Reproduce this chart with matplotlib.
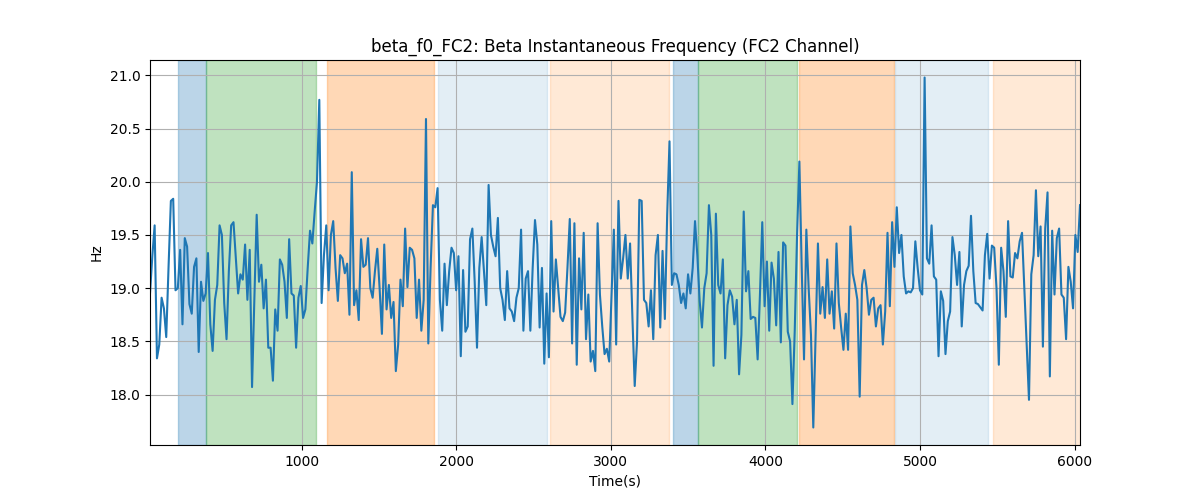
import numpy as np
import matplotlib
matplotlib.use('Agg')
import matplotlib.pyplot as plt

#Beta instantaneous frequency values (Hz), one every 15 s
freq = [
  18.95, 19.3, 19.59, 18.34, 18.47, 18.91, 18.81, 18.54, 19.2, 19.82,
  19.84, 18.98, 19.0, 19.36, 18.66, 19.47, 19.39, 18.85, 18.76, 19.2,
  19.28, 18.4, 19.06, 18.88, 18.95, 19.33, 18.66, 18.41, 18.89, 19.03,
  19.59, 19.5, 18.86, 18.52, 19.16, 19.59, 19.62, 19.28, 18.95, 19.13,
  19.08, 19.41, 18.89, 19.36, 18.07, 18.9, 19.69, 19.06, 19.22, 18.81,
  19.08, 18.44,
  18.44, 18.13, 18.8, 18.6, 19.27, 19.22, 19.06, 18.72, 19.46, 18.95,
  18.93, 18.44, 18.91, 19.02, 18.72, 18.8, 19.19, 19.54, 19.42, 19.72,
  20.0, 20.77, 18.86, 19.31, 19.59, 18.98, 19.5, 19.63, 19.19, 18.88,
  19.31, 19.28, 19.14, 19.23, 18.75, 20.09, 18.84, 18.98, 18.7, 19.46,
  19.2, 19.22, 19.47, 19.0, 18.91, 19.16, 19.37, 19.0, 18.57, 19.41,
  18.8, 19.03,
  18.72, 18.87, 18.22, 18.47, 19.08, 18.83, 19.56, 19.01, 19.38, 19.36,
  19.28, 18.72, 19.08, 18.6, 18.89, 20.59, 18.48, 19.2, 19.78, 19.76,
  19.94, 18.89, 18.6, 19.23, 18.84, 19.16, 19.38, 19.33, 18.98, 19.3,
  18.36, 19.17, 18.59, 18.64, 19.46, 19.56, 19.06, 18.44, 19.19, 19.48,
  19.16, 18.84, 19.97, 19.5, 19.39, 19.3, 19.66, 19.0, 18.89, 18.7,
  19.16, 18.81,
  18.78, 18.69, 18.91, 19.0, 19.55, 18.6, 19.09, 19.16, 18.6, 19.19,
  19.64, 19.41, 18.63, 19.19, 18.29, 18.95, 18.35, 19.63, 18.78, 19.27,
  19.0, 18.73, 18.69, 18.77, 19.19, 19.65, 18.48, 19.61, 18.28, 19.28,
  18.8, 19.52, 18.52, 18.94, 18.31, 18.41, 18.22, 19.61, 18.94, 18.64,
  18.38, 18.43, 18.31, 18.94, 19.55, 18.47, 19.82, 19.09, 19.28, 19.5,
  19.09, 19.42,
  18.73, 18.08, 18.5, 19.83, 19.82, 18.89, 18.86, 18.64, 18.98, 18.52,
  19.31, 19.5, 18.63, 19.35, 18.71, 19.69, 20.38, 19.03, 19.14, 19.13,
  19.03, 18.86, 18.95, 18.81, 19.13, 18.95, 19.19, 19.63, 19.31, 18.88,
  18.63, 19.0, 19.14, 19.78, 19.5, 18.27, 19.7, 19.03, 18.95, 19.27,
  18.34, 18.84, 18.98, 18.92, 18.66, 18.89, 18.19, 18.56, 19.72, 18.97,
  19.16,
  18.71, 18.73, 18.72, 18.33, 18.94, 19.62, 18.83, 19.25, 18.6, 19.24,
  19.09, 18.65, 19.34, 18.49, 19.43, 19.4, 18.59, 18.5, 17.91, 18.6,
  19.5, 20.19, 19.2, 18.33, 19.55, 19.0, 18.56, 17.69, 18.56, 19.42,
  18.76, 19.01, 18.72, 19.27, 18.76, 18.97, 18.62, 19.42, 18.86, 18.63,
  18.42, 18.76, 18.42, 19.58, 19.14, 19.03, 18.89, 17.98, 19.03, 19.17,
  19.0, 18.75,
  18.89, 18.91, 18.64, 18.81, 18.84, 18.47, 18.78, 19.52, 18.83, 19.62,
  19.2, 19.76, 19.33, 19.5, 19.11, 18.95, 18.97, 18.96, 19.0, 19.44,
  19.19, 18.98, 18.94, 20.98, 19.28, 19.23, 19.59, 19.11, 19.08, 18.36,
  18.97, 18.88, 18.38, 18.69, 18.78, 19.48, 19.31, 19.03, 19.34, 18.64,
  19.03, 19.16, 19.21, 19.68, 19.16, 18.86, 18.85, 18.82, 18.79, 19.31,
  19.51, 19.09,
  19.4, 19.38, 19.0, 18.28, 19.38, 19.16, 18.73, 19.63, 19.11, 19.1,
  19.33, 19.28, 19.44, 19.52, 19.0, 18.47, 17.95, 19.13, 19.31, 19.92,
  19.3, 19.58, 18.45, 19.56, 19.9, 18.17, 19.54, 18.94, 19.47, 19.56,
  18.94, 18.91, 18.52, 19.2, 19.06, 18.81, 19.5, 19.34, 19.78,
]

t_start = 20
t_step = 15
time = t_start + t_step * np.arange(len(freq))

#Shaded segments (start, end, colour, alpha)
seg_start = [200, 380, 1165, 1880, 2605, 3405, 3565, 4215, 4840, 5472]
seg_end = [380, 1095, 1860, 2585, 3375, 3565, 4203, 4833, 5440, 6100]
seg_colour = ['tab:blue', 'tab:green', 'tab:orange', 'tab:blue', 'tab:orange',
              'tab:blue', 'tab:green', 'tab:orange', 'tab:blue', 'tab:orange']
seg_alpha = [0.3, 0.3, 0.3, 0.12, 0.17, 0.3, 0.3, 0.3, 0.12, 0.17]

fig, ax = plt.subplots(figsize=(12, 5), dpi=100)

for s, e, c, a in zip(seg_start, seg_end, seg_colour, seg_alpha):
  ax.axvspan(s, e, color=c, alpha=a)

ax.plot(time, freq, color='tab:blue', linewidth=1.5)

ax.set_xlim(time[0], time[-1])
ax.grid(True)
ax.set_title('beta_f0_FC2: Beta Instantaneous Frequency (FC2 Channel)')
ax.set_xlabel('Time(s)')
ax.set_ylabel('Hz')

fig.savefig('out.png')
